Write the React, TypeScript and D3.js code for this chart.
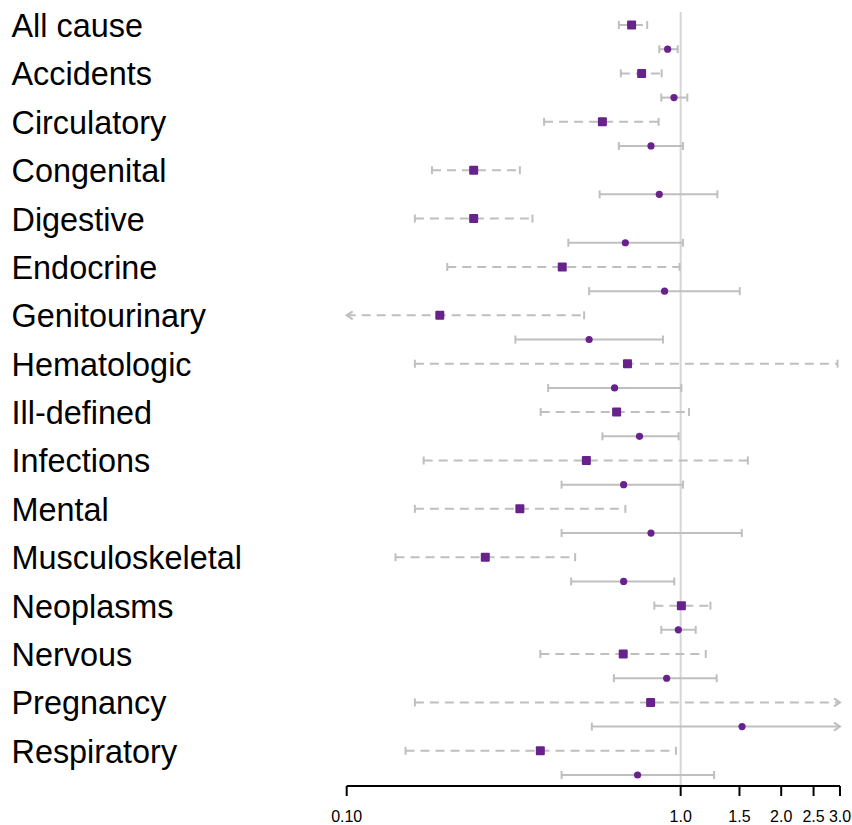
import React from "react";
import * as d3 from "d3";

const categories = [
  "All cause", "Accidents", "Circulatory", "Congenital", "Digestive", "Endocrine",
  "Genitourinary", "Hematologic", "Ill-defined", "Infections", "Mental",
  "Musculoskeletal", "Neoplasms", "Nervous", "Pregnancy", "Respiratory",
];

// Square markers (dashed intervals)
const sqEst = [0.713, 0.764, 0.583, 0.240, 0.240, 0.442, 0.190, 0.693, 0.643, 0.522, 0.330, 0.260, 1.005, 0.673, 0.813, 0.380];
const sqLo = [0.653, 0.662, 0.390, 0.180, 0.160, 0.200, 0.080, 0.160, 0.381, 0.170, 0.160, 0.140, 0.834, 0.380, 0.160, 0.150];
const sqHi = [0.794, 0.877, 0.859, 0.330, 0.360, 0.993, 0.514, 2.950, 1.059, 1.589, 0.683, 0.483, 1.228, 1.189, 4.500, 0.968];

// Circle markers (solid intervals)
const ciEst = [0.914, 0.955, 0.815, 0.863, 0.683, 0.895, 0.532, 0.634, 0.753, 0.675, 0.815, 0.675, 0.984, 0.908, 1.527, 0.743];
const ciLo = [0.863, 0.875, 0.653, 0.572, 0.461, 0.532, 0.320, 0.401, 0.583, 0.440, 0.440, 0.470, 0.875, 0.631, 0.542, 0.440];
const ciHi = [0.980, 1.047, 1.016, 1.288, 1.016, 1.503, 0.885, 1.005, 0.986, 1.016, 1.524, 0.957, 1.109, 1.282, 4.000, 1.259];

const tickValues = [0.1, 1.0, 1.5, 2.0, 2.5, 3.0];
const tickLabels = ["0.10", "1.0", "1.5", "2.0", "2.5", "3.0"];

const W = 852;
const H = 825;
const PURPLE = "#68228B";
const GRAY = "#bfbfbf";
const REF = "#d6d6d6";

export default function App() {
  const x = d3.scaleLog().domain([0.1, 3.0]).range([346.7, 840]);
  const y = d3.scaleLinear().domain([0, 31]).range([25, 775]);
  const axisY = 786;
  const [xmin, xmax] = x.domain();

  const interval = (lo: number, hi: number, yy: number, dashed: boolean, key: string) => {
    const loClip = lo < xmin;
    const hiClip = hi > xmax;
    const x1 = x(Math.max(lo, xmin));
    const x2 = x(Math.min(hi, xmax));
    const capH = 4;
    const aw = 6;
    const ah = 4;
    return (
      <g key={key} stroke={GRAY} strokeWidth={2} fill="none">
        <line x1={x1} x2={x2} y1={yy} y2={yy} strokeDasharray={dashed ? "9,6" : undefined} />
        {loClip ? (
          <path d={`M${x1 + aw},${yy - ah}L${x1},${yy}L${x1 + aw},${yy + ah}`} />
        ) : (
          <line x1={x1} x2={x1} y1={yy - capH} y2={yy + capH} />
        )}
        {hiClip ? (
          <path d={`M${x2 - aw},${yy - ah}L${x2},${yy}L${x2 - aw},${yy + ah}`} />
        ) : (
          <line x1={x2} x2={x2} y1={yy - capH} y2={yy + capH} />
        )}
      </g>
    );
  };

  return (
    <svg
      width={W}
      height={H}
      style={{ position: "absolute", left: 0, top: 0, background: "#fff" }}
      fontFamily="'Liberation Sans', Arial, sans-serif"
    >
      <rect width={W} height={H} fill="#fff" />
      {/* reference line */}
      <line x1={x(1)} x2={x(1)} y1={12} y2={axisY} stroke={REF} strokeWidth={2} />

      {categories.map((c, i) => (
        <text key={c} x={11.5} y={y(2 * i) + 12} fontSize={32.4} fill="#000">
          {c}
        </text>
      ))}

      {categories.map((c, i) => interval(sqLo[i], sqHi[i], y(2 * i), true, "sq" + i))}
      {categories.map((c, i) => interval(ciLo[i], ciHi[i], y(2 * i + 1), false, "ci" + i))}

      {categories.map((c, i) => (
        <rect
          key={"sqm" + i}
          x={x(sqEst[i]) - 4.5}
          y={y(2 * i) - 4.5}
          width={9}
          height={9}
          rx={1}
          fill={PURPLE}
        />
      ))}
      {categories.map((c, i) => (
        <circle key={"cim" + i} cx={x(ciEst[i])} cy={y(2 * i + 1)} r={3.6} fill={PURPLE} />
      ))}

      {/* axis */}
      <g stroke="#000" strokeWidth={2}>
        <line x1={x(xmin)} x2={x(xmax)} y1={axisY} y2={axisY} />
        {tickValues.map((t) => (
          <line key={t} x1={x(t)} x2={x(t)} y1={axisY} y2={axisY + 10} />
        ))}
      </g>
      {tickValues.map((t, i) => (
        <text key={"tl" + t} x={x(t)} y={822} fontSize={16} textAnchor="middle" fill="#000">
          {tickLabels[i]}
        </text>
      ))}
    </svg>
  );
}
